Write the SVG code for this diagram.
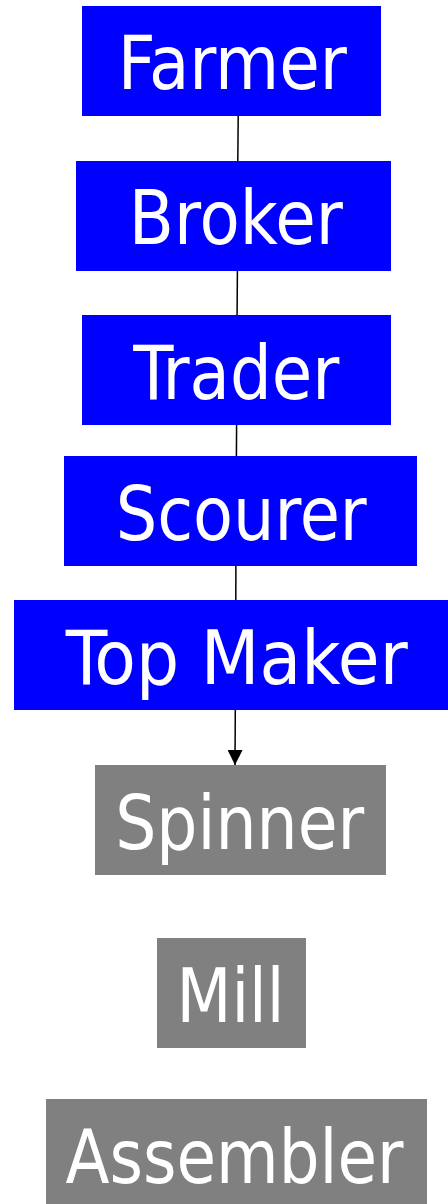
<svg xmlns="http://www.w3.org/2000/svg" width="448" height="1204" viewBox="0 0 448 1204">
<defs>
<style>
.blue{fill:#0000ff}
.gray{fill:#808080}
.lbl{fill:#ffffff;font-family:"DejaVu Sans Condensed","DejaVu Sans",sans-serif;font-size:74px;text-anchor:middle}
.edge{stroke:#000000;stroke-width:1.5;fill:none}
</style>
<marker id="arrow" viewBox="0 0 10 10" refX="10" refY="5" markerWidth="15" markerHeight="15" markerUnits="userSpaceOnUse" orient="auto">
<path d="M0,0 L10,5 L0,10 Z" fill="#000000"/>
</marker>
</defs>
<rect width="448" height="1204" fill="#ffffff"/>
<g id="connectors">
<line class="edge" x1="238.2" y1="116" x2="237.8" y2="161"/>
<line class="edge" x1="237.4" y1="271" x2="237.1" y2="315"/>
<line class="edge" x1="236.6" y1="425" x2="236.4" y2="456"/>
<line class="edge" x1="235.9" y1="566" x2="235.8" y2="600"/>
<line class="edge" x1="235.3" y1="710" x2="235" y2="765" marker-end="url(#arrow)"/>
</g>
<g id="farmer">
<rect class="blue" x="82" y="6" width="299" height="110"/>
<text class="lbl" x="232.3" y="89.3" textLength="229" lengthAdjust="spacingAndGlyphs">Farmer</text>
</g>
<g id="broker">
<rect class="blue" x="76" y="161" width="315" height="110"/>
<text class="lbl" x="235.8" y="244.3" textLength="214" lengthAdjust="spacingAndGlyphs">Broker</text>
</g>
<g id="trader">
<rect class="blue" x="82" y="315" width="309" height="110"/>
<text class="lbl" x="236.2" y="399" textLength="206" lengthAdjust="spacingAndGlyphs">Trader</text>
</g>
<g id="scourer">
<rect class="blue" x="64" y="456" width="353" height="110"/>
<text class="lbl" x="241.2" y="540" textLength="251" lengthAdjust="spacingAndGlyphs">Scourer</text>
</g>
<g id="top-maker">
<rect class="blue" x="14" y="600" width="434" height="110"/>
<text class="lbl" x="236.7" y="684.3" textLength="342" lengthAdjust="spacingAndGlyphs">Top Maker</text>
</g>
<g id="spinner">
<rect class="gray" x="95" y="765" width="291" height="110"/>
<text class="lbl" x="239.7" y="849.3" textLength="249" lengthAdjust="spacingAndGlyphs">Spinner</text>
</g>
<g id="mill">
<rect class="gray" x="157" y="938" width="149" height="110"/>
<text class="lbl" x="230.5" y="1022.3" textLength="108" lengthAdjust="spacingAndGlyphs">Mill</text>
</g>
<g id="assembler">
<rect class="gray" x="46" y="1099" width="381" height="110"/>
<text class="lbl" x="234.5" y="1183.3" textLength="338" lengthAdjust="spacingAndGlyphs">Assembler</text>
</g>
</svg>
